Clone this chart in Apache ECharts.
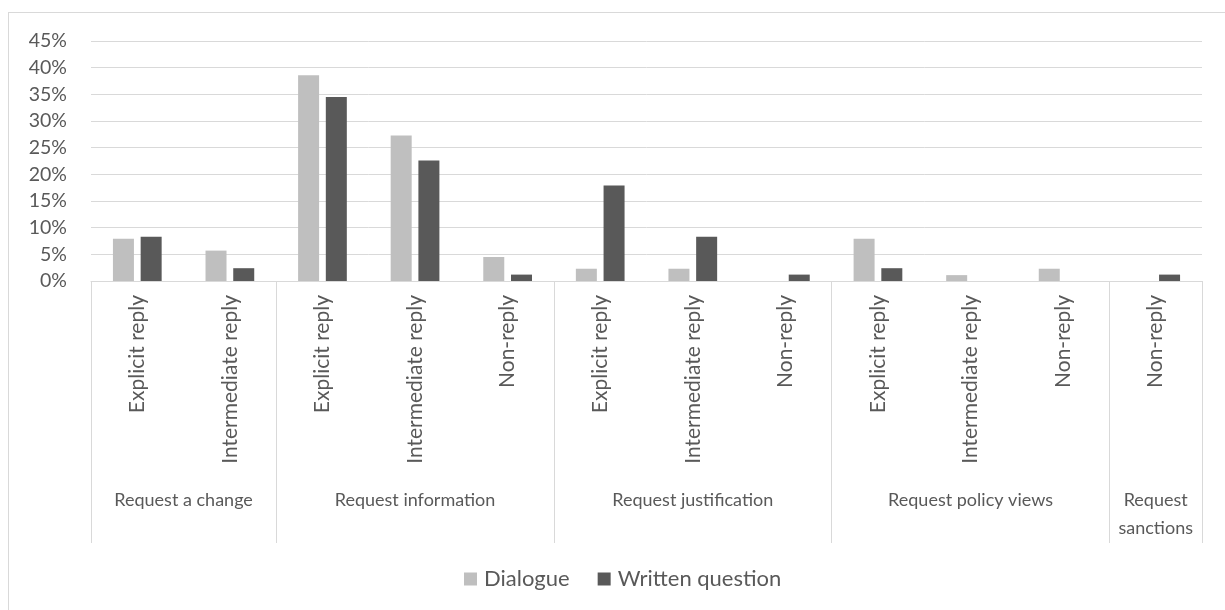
<!DOCTYPE html>
<html>
<head>
<meta charset="utf-8">
<script src="https://cdn.jsdelivr.net/npm/echarts@6/dist/echarts.min.js"></script>
<style>
  html, body { margin: 0; padding: 0; background: #fff; }
  #wrap { position: relative; width: 1225px; height: 610px; overflow: hidden; }
  #chart { width: 1225px; height: 610px; }
  #frame { position: absolute; left: 8px; top: 12px; width: 1400px; height: 800px;
           border: 1px solid #d9d9d9; pointer-events: none; }
</style>
</head>
<body>
<div id="wrap">
  <div id="chart"></div>
  <div id="frame"></div>
</div>
<script>
// Reply type within each request type
const replyTypes = [
  'Explicit reply', 'Intermediate reply',
  'Explicit reply', 'Intermediate reply', 'Non-reply',
  'Explicit reply', 'Intermediate reply', 'Non-reply',
  'Explicit reply', 'Intermediate reply', 'Non-reply',
  'Non-reply'
];

// Request types and how many reply categories each spans
const requestTypes = ['Request a change', 'Request information', 'Request justification',
                      'Request policy views', 'Request\nsanctions'];
const requestSpans = [2, 3, 3, 3, 1];

// Share of questions (%)
const dialogue = [7.9, 5.7, 38.6, 27.3, 4.5, 2.3, 2.3, 0, 7.9, 1.1, 2.3, 0];
const writtenQuestion = [8.3, 2.4, 34.5, 22.6, 1.2, 17.9, 8.3, 1.2, 2.4, 0, 0, 1.2];

const yTicks = [0, 5, 10, 15, 20, 25, 30, 35, 40, 45];

// Group boundaries and centres on the 0..N scale of the second x axis
const bounds = [0];
requestSpans.forEach(s => bounds.push(bounds[bounds.length - 1] + s));
const centres = requestSpans.map((s, i) => bounds[i] + s / 2);

const font = 'Lato';
const textColor = '#595959';
const lineColor = '#d9d9d9';

const chart = echarts.init(document.getElementById('chart'), null, { renderer: 'canvas' });
chart.setOption({
  animation: false,
  backgroundColor: '#fff',
  textStyle: { fontFamily: font, color: textColor },
  legend: {
    top: 563,
    left: 459,
    itemWidth: 13,
    itemHeight: 13,
    itemGap: 28,
    icon: 'rect',
    textStyle: { fontFamily: font, fontSize: 22, color: textColor, padding: [0, 0, 0, 2] },
    data: ['Dialogue', 'Written question']
  },
  grid: { left: 91, right: 23, top: 41, bottom: 329, containLabel: false },
  xAxis: [
    {
      type: 'category',
      data: replyTypes,
      position: 'bottom',
      axisLine: { lineStyle: { color: lineColor, width: 1 } },
      axisTick: { show: false },
      axisLabel: {
        rotate: 90, margin: 14, interval: 0,
        fontFamily: font, fontSize: 21, color: textColor
      }
    },
    {
      type: 'value',
      min: 0,
      max: bounds[bounds.length - 1],
      position: 'bottom',
      axisLine: { show: false },
      splitLine: { show: false },
      axisTick: {
        show: true, inside: false, length: 262,
        customValues: bounds,
        lineStyle: { color: lineColor, width: 1 }
      },
      axisLabel: {
        show: true, margin: 205,
        customValues: centres,
        fontFamily: font, fontSize: 18, color: textColor, lineHeight: 28,
        align: 'center', verticalAlign: 'top',
        formatter: v => {
          const i = centres.findIndex(c => Math.abs(c - v) < 1e-6);
          return i >= 0 ? requestTypes[i] : '';
        }
      }
    }
  ],
  yAxis: {
    type: 'value',
    min: yTicks[0],
    max: yTicks[yTicks.length - 1],
    interval: 5,
    axisLine: { show: false },
    axisTick: { show: false },
    splitLine: { lineStyle: { color: lineColor, width: 1 } },
    axisLabel: {
      margin: 24, fontFamily: font, fontSize: 19.5, color: textColor,
      formatter: '{value}%'
    }
  },
  series: [
    {
      name: 'Dialogue', type: 'bar', xAxisIndex: 0, data: dialogue,
      barWidth: 21, barGap: '32%',
      itemStyle: { color: '#bfbfbf' }
    },
    {
      name: 'Written question', type: 'bar', xAxisIndex: 0, data: writtenQuestion,
      barWidth: 21, barGap: '32%',
      itemStyle: { color: '#595959' }
    }
  ]
});
</script>
</body>
</html>
